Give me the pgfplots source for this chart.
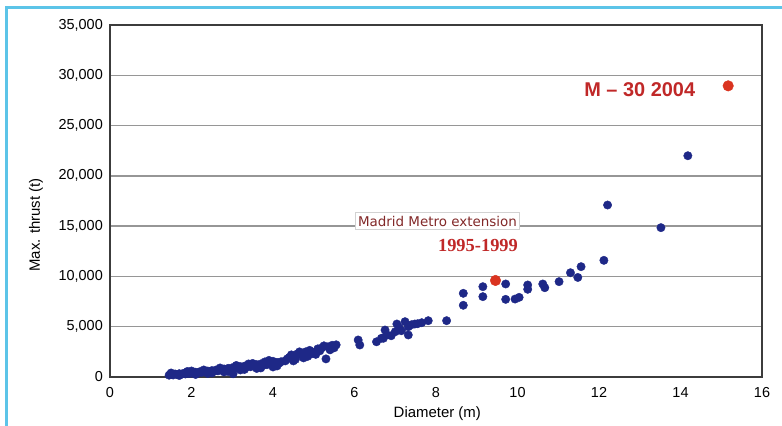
\documentclass[border=0pt]{standalone}
\usepackage{pgfplots}
\pgfplotsset{compat=1.18}
\usepackage{fontspec}
\setmainfont{Liberation Sans}
\newfontfamily\serifbold{Liberation Serif}
\newfontfamily\dejavu{DejaVu Sans}
\definecolor{frameblue}{RGB}{92,196,232}
\definecolor{dotblue}{RGB}{30,40,135}
\definecolor{dotred}{RGB}{218,52,32}
\definecolor{txtred}{RGB}{192,40,40}
\definecolor{txtbrown}{RGB}{130,40,40}
\definecolor{axisgray}{RGB}{60,60,60}
\definecolor{gridgray}{RGB}{150,150,150}
\begin{document}
\begin{tikzpicture}
\useasboundingbox (0,0) rectangle (782bp,426bp);
\begin{axis}[
  at={(110bp,49bp)}, anchor=south west,
  scale only axis, width=652bp, height=352bp,
  xmin=0, xmax=16, ymin=0, ymax=35000,
  xtick={0,2,...,16},
  ytick={0,5000,...,35000},
  scaled y ticks=false,
  /pgf/number format/.cd, 1000 sep={,}, assume math mode=true,
  /pgfplots/.cd,
  major tick length=0pt,
  ymajorgrids,
  major grid style={gridgray, line width=1.3bp},
  axis line style={axisgray, line width=1.8bp},
  tick label style={font=\fontsize{14.5}{16}\selectfont, inner sep=0pt},
  xticklabel style={anchor=north, yshift=-10bp},
  yticklabel style={anchor=east, xshift=-7bp},
  clip=false,
]
\addplot[only marks, mark=*, mark size=4.2bp, mark options={draw=dotblue, fill=dotblue}] table {
x y
1.45 180
1.50 250
1.50 400
1.55 200
1.60 300
1.65 250
1.70 330
1.70 150
1.75 280
1.80 360
1.85 300
1.90 400
1.90 550
1.95 340
2.00 430
2.00 600
2.05 370
2.10 470
2.10 250
2.15 400
2.20 520
2.25 450
2.30 550
2.30 700
2.35 480
2.40 590
2.40 350
2.45 520
2.50 640
2.50 400
2.55 560
2.60 690
2.65 610
2.70 740
2.70 900
2.75 660
2.80 800
2.80 500
2.85 710
2.90 860
2.90 550
2.95 760
3.00 920
3.02 320
3.05 820
3.10 980
3.10 1150
3.15 880
3.20 1030
3.20 700
3.25 930
3.30 1080
3.30 750
3.35 980
3.40 1130
3.40 1300
3.45 1020
3.50 1180
3.50 1350
3.55 1070
3.60 1230
3.60 850
3.65 1110
3.70 1300
3.70 900
3.75 1160
3.80 1380
3.80 1500
3.85 1220
3.90 1500
3.90 1650
3.95 1280
4.00 1560
4.00 1000
4.05 1330
4.10 1450
4.10 1100
4.15 1380
4.20 1520
4.30 1600
4.35 1800
4.40 1950
4.45 2200
4.50 2100
4.50 1600
4.55 1750
4.60 2300
4.65 2500
4.70 2200
4.75 1900
4.80 2500
4.85 2050
4.90 2650
4.95 2300
5.00 2450
5.05 2250
5.10 2800
5.15 2600
5.20 2900
5.25 3100
5.30 1800
5.35 3000
5.40 2700
5.45 3150
5.50 2900
5.55 3200
6.09 3680
6.13 3180
6.54 3500
6.66 3850
6.79 4200
6.75 4670
6.71 3850
6.90 4100
7.00 4500
7.04 5270
7.10 4900
7.15 4600
7.24 5500
7.32 5000
7.32 4180
7.40 5200
7.48 5270
7.55 5300
7.65 5400
7.81 5600
8.26 5600
8.67 8320
8.67 7130
9.15 8980
9.15 7990
9.71 9250
9.71 7720
9.94 7750
10.04 7920
10.25 9150
10.25 8720
10.62 9250
10.67 8880
11.02 9480
11.30 10370
11.48 9900
11.56 10970
12.12 11600
12.21 17100
13.52 14850
14.18 22000
};
\addplot[only marks, mark=*, mark size=5.3bp, mark options={draw=dotred, fill=dotred}] table {
x y
9.46 9600
15.17 28950
};
\node[text=txtred, font=\fontsize{20}{22}\selectfont\bfseries] at (axis cs:13.0,28540) {M -- 30 2004};
\node[anchor=west, fill=white, draw=gray!35, line width=1bp, inner sep=3bp, text=txtbrown, font=\dejavu\fontsize{13.5}{15}\selectfont] at (axis cs:6.0,15510) {Madrid Metro extension};
\node[text=txtred, font=\serifbold\fontsize{18.5}{20}\selectfont\bfseries] at (axis cs:9.03,13030) {1995-1999};
\node[font=\fontsize{15}{17}\selectfont] at (axis description cs:0.502,-0.105) {Diameter (m)};
\node[rotate=90, font=\fontsize{15}{17}\selectfont] at (axis description cs:-0.1135,0.432) {Max. thrust (t)};
\end{axis}
\draw[frameblue, line width=3bp] (6bp,0) -- (6bp,418bp) -- (782bp,418bp);
\end{tikzpicture}
\end{document}
